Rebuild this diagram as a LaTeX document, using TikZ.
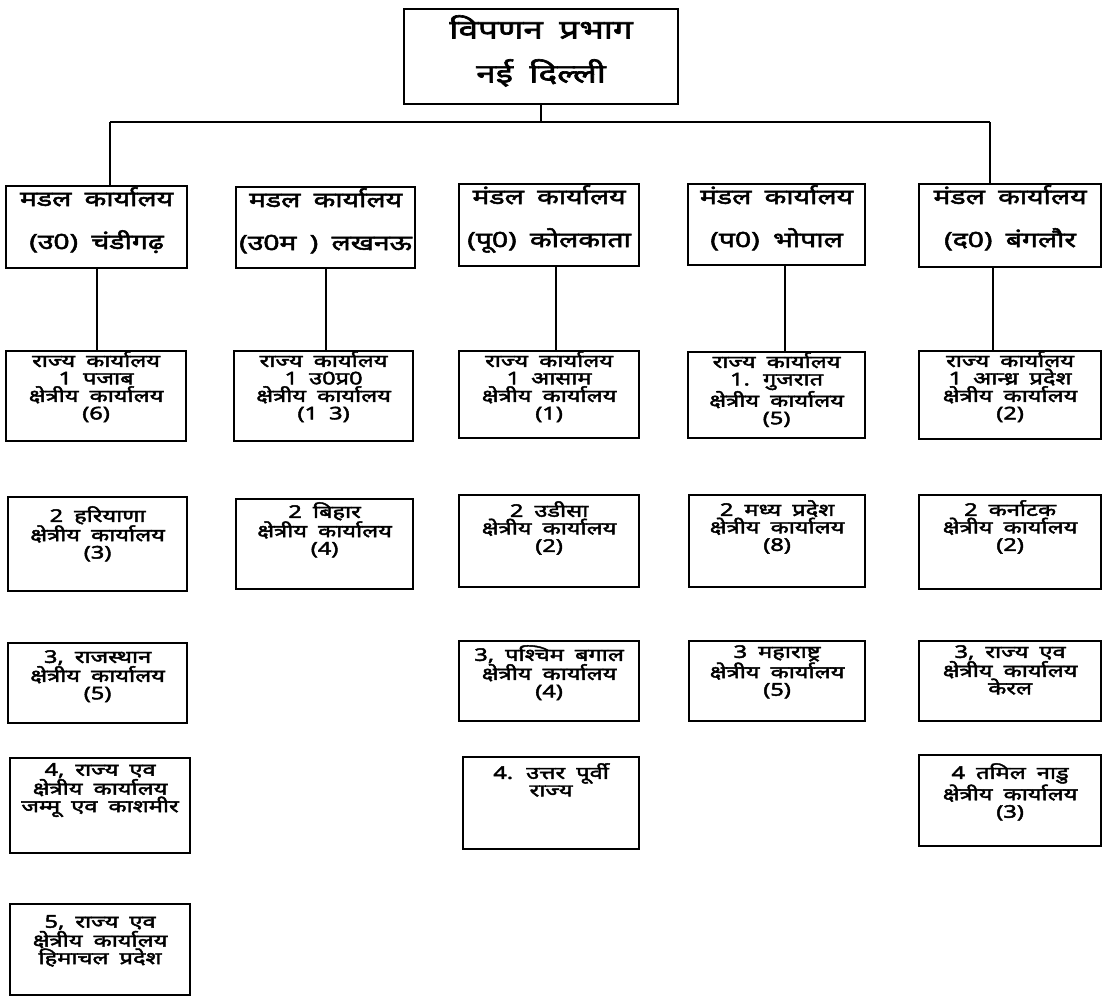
\documentclass[tikz,border=0pt]{standalone}
\usepackage{fontspec}
\newfontfamily\dev[Script=Devanagari, FakeBold=2.5, FakeStretch=1.35, WordSpace=1.8]{Noto Sans}
\tikzset{
  obox/.style={draw, line width=2.2pt, rectangle, inner sep=0pt},
  otxt/.style={font=\dev\fontsize{17.5}{17.5}\selectfont, align=center, inner sep=0pt, anchor=north},
  htxt/.style={otxt, font=\dev\fontsize{21}{43}\selectfont},
  ttxt/.style={otxt, font=\dev\fontsize{26}{44}\selectfont},
  conn/.style={line width=2pt},
}
\newcommand\OBox[8][otxt]{%
  \node[obox, minimum width=#5-#3, minimum height=#6-#4, anchor=north west] (#2) at (#3,#4) {};
  \node[#1] (#2t) at ([yshift=-#7]#2.north) {#8};
}
\begin{document}
\begin{tikzpicture}[x=1pt,y=-1pt]
\fill[white] (0,0) rectangle (1105,996);
\useasboundingbox (0,0) rectangle (1105,996);
% top
\OBox[ttxt]{top}{403}{8}{677}{103}{7}{विपणन प्रभाग\\नई दिल्ली}
% row 1
\OBox[htxt]{a1}{5}{185}{186}{267}{2}{मडल कार्यालय\\(उ0) चंडीगढ़}
\OBox[htxt]{a2}{235}{186}{414}{267}{2}{मडल कार्यालय\\(उ0म ) लखनऊ}
\OBox[htxt]{a3}{458}{183}{638}{265}{2}{मंडल कार्यालय\\(पू0) कोलकाता}
\OBox[htxt]{a4}{687}{183}{864}{264}{2}{मंडल कार्यालय\\(प0) भोपाल}
\OBox[htxt]{a5}{918}{183}{1100}{266}{2}{मंडल कार्यालय\\(द0) बंगलौर}
% row 2
\OBox{b1}{5}{350}{185}{440}{1}{राज्य कार्यालय\\1 पजाब\\क्षेत्रीय कार्यालय\\(6)}
\OBox{b2}{233}{350}{412}{440}{1}{राज्य कार्यालय\\1 उ0प्र0\\क्षेत्रीय कार्यालय\\(1 3)}
\OBox{b3}{458}{350}{638}{437}{1}{राज्य कार्यालय\\1 आसाम\\क्षेत्रीय कार्यालय\\(1)}
\OBox{b4}{687}{351}{864}{437}{1}{राज्य कार्यालय\\1. गुजरात\\क्षेत्रीय कार्यालय\\(5)}
\OBox{b5}{918}{350}{1100}{438}{1}{राज्य कार्यालय\\1 आन्ध्र प्रदेश\\क्षेत्रीय कार्यालय\\(2)}
% row 3
\OBox{c1}{7}{496}{186}{590}{10}{2 हरियाणा\\क्षेत्रीय कार्यालय\\(3)}
\OBox{c2}{235}{498}{412}{588}{4}{2 बिहार\\क्षेत्रीय कार्यालय\\(4)}
\OBox{c3}{458}{494}{638}{586}{7}{2 उडीसा\\क्षेत्रीय कार्यालय\\(2)}
\OBox{c4}{688}{494}{864}{586}{6}{2 मध्य प्रदेश\\क्षेत्रीय कार्यालय\\(8)}
\OBox{c5}{918}{494}{1100}{588}{6}{2 कर्नाटक\\क्षेत्रीय कार्यालय\\(2)}
% row 4
\OBox{d1}{7}{642}{186}{722}{8}{3, राजस्थान\\क्षेत्रीय कार्यालय\\(5)}
\OBox{d3}{458}{640}{638}{720}{5}{3, पश्चिम बगाल\\क्षेत्रीय कार्यालय\\(4)}
\OBox{d4}{688}{640}{864}{720}{5}{3 महाराष्ट्र\\क्षेत्रीय कार्यालय\\(5)}
\OBox{d5}{918}{640}{1100}{720}{5}{3, राज्य एव\\क्षेत्रीय कार्यालय\\केरल}
% row 5
\OBox{e1}{9}{757}{189}{852}{6}{4, राज्य एव\\क्षेत्रीय कार्यालय\\जम्मू एव काशमीर}
\OBox{e3}{462}{756}{638}{848}{7}{4. उत्तर पूर्वी\\राज्य}
\OBox{e5}{918}{754}{1100}{845}{9}{4 तमिल नाडु\\क्षेत्रीय कार्यालय\\(3)}
% row 6
\OBox{f1}{9}{903}{189}{994}{12}{5, राज्य एव\\क्षेत्रीय कार्यालय\\हिमाचल प्रदेश}
% connectors
\coordinate (hl) at (110,122);
\coordinate (hr) at (990,122);
\draw[conn] (top.south) -- (top.south |- hl);
\draw[conn] (hl) -- (hr);
\draw[conn] (hl) -- (hl |- a1.north);
\draw[conn] (hr) -- (hr |- a5.north);
\draw[conn] (a1.south) -- (a1.south |- b1.north);
\draw[conn] (a2.south) -- (a2.south |- b2.north);
\draw[conn] ([xshift=7pt]a3.south) -- ([xshift=7pt]a3.south |- b3.north);
\draw[conn] ([xshift=8pt]a4.south) -- ([xshift=8pt]a4.south |- b4.north);
\draw[conn] ([xshift=-17pt]a5.south) -- ([xshift=-17pt]a5.south |- b5.north);
\end{tikzpicture}
\end{document}
